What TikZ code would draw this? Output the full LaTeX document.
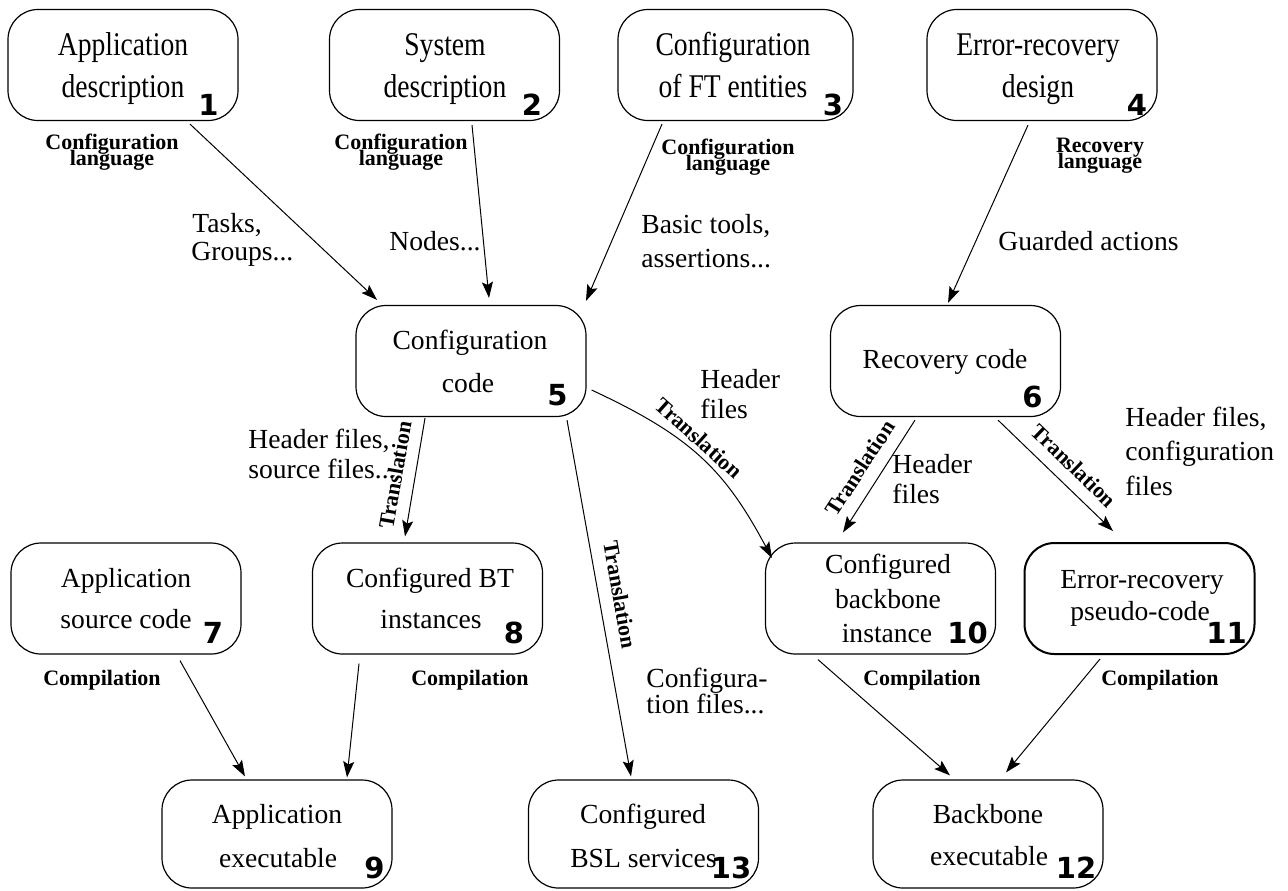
\documentclass[tikz,border=0pt]{standalone}
\usepackage{fontspec}
\usepackage{graphicx}
\setmainfont{Liberation Serif}
\newfontfamily\numfont{DejaVu Sans}
\newcommand{\tallt}[1]{\scalebox{1}[1.2]{#1}}
\usetikzlibrary{arrows.meta,calc}
\begin{document}
\begin{tikzpicture}[x=0.5pt,y=-0.5pt,
 box/.style={draw, line width=0.6pt, rounded corners=15pt, minimum width=115pt, minimum height=55.5pt, inner sep=0pt},
 txt/.style={anchor=base, inner sep=0pt, font=\fontsize{13.8}{16}\selectfont},
 txtl/.style={anchor=base west, inner sep=0pt, font=\fontsize{13.8}{16}\selectfont},
 blbl/.style={anchor=base, inner sep=0pt, font=\fontsize{11}{13}\selectfont\bfseries},
 rlbl/.style={inner sep=0pt, font=\fontsize{11}{13}\selectfont\bfseries},
 num/.style={anchor=base, inner sep=0pt, font=\numfont\bfseries\fontsize{14.5}{16}\selectfont},
 arr/.style={line width=0.5pt, -{Stealth[length=8pt,width=5.5pt,inset=1.5pt]}}]
\useasboundingbox (0,0) rectangle (1288,890);

% boxes
\node[box] (b1) at (123,65) {};
\node[box] (b2) at (444.5,65) {};
\node[box, minimum width=117.5pt] (b3) at (735.5,65) {};
\node[box] (b4) at (1042,65) {};
\node[box] (b5) at (471,361) {};
\node[box] (b6) at (945.5,361) {};
\node[box] (b7) at (126,598.5) {};
\node[box] (b8) at (427.5,598.5) {};
\node[box] (b10) at (880.5,598.5) {};
\node[box, line width=1pt] (b11) at (1139.5,598.5) {};
\node[box, minimum height=54pt] (b9) at (277,834) {};
\node[box, minimum height=54pt] (b13) at (643.5,834) {};
\node[box, minimum height=54pt] (b12) at (988,834) {};

% box texts
\node[txt] (t1a) at (123,55) {\tallt{Application}};
\node[txt] (t1b) at (123,97) {\tallt{description}};
\node[txt] (t2a) at (445,55) {\tallt{System}};
\node[txt] (t2b) at (445,97) {\tallt{description}};
\node[txt] (t3a) at (733,55) {\tallt{Configuration}};
\node[txt] (t3b) at (733,97) {\tallt{of FT entities}};
\node[txt] (t4a) at (1038,55) {\tallt{Error-recovery}};
\node[txt] (t4b) at (1038,97) {\tallt{design}};
\node[txt] (t5a) at (470,349) {Configuration};
\node[txt] (t5b) at (468,392) {code};
\node[txt] (t6a) at (945,368) {Recovery code};
\node[txt] (t7a) at (126,587) {Application};
\node[txt] (t7b) at (126,628) {source code};
\node[txt] (t8a) at (430,587) {Configured BT};
\node[txt] (t8b) at (431,628) {instances};
\node[txt] (t10a) at (888,573) {Configured};
\node[txt] (t10b) at (888,608) {backbone};
\node[txt] (t10c) at (887,642) {instance};
\node[txt] (t11a) at (1142,588) {Error-recovery};
\node[txt] (t11b) at (1140,620) {pseudo-code};
\node[txt] (t9a) at (277,823) {Application};
\node[txt] (t9b) at (278,867) {executable};
\node[txt] (t13a) at (643,823) {Configured};
\node[txt] (t13b) at (643.5,867) {BSL services};
\node[txt] (t12a) at (988,823) {Backbone};
\node[txt] (t12b) at (989,865) {executable};

% numbers
\node[num] (n1) at (208.5,115) {1};
\node[num] (n2) at (532,115) {2};
\node[num] (n3) at (833,115) {3};
\node[num] (n4) at (1137,115) {4};
\node[num] (n5) at (557.5,405) {5};
\node[num] (n6) at (1032.5,407) {6};
\node[num] (n7) at (213,643) {7};
\node[num] (n8) at (514,643) {8};
\node[num] (n10) at (967.5,643) {10};
\node[num] (n11) at (1226.5,643) {11};
\node[num] (n9) at (374.5,878) {9};
\node[num] (n13) at (731,878) {13};
\node[num] (n12) at (1076,878) {12};

% bold language labels
\node[blbl] (l1a) at (112,149) {Configuration};
\node[blbl] (l1b) at (112,165) {language};
\node[blbl] (l2a) at (401,149) {Configuration};
\node[blbl] (l2b) at (401,165) {language};
\node[blbl] (l3a) at (728,154) {Configuration};
\node[blbl] (l3b) at (728,170) {language};
\node[blbl] (l4a) at (1100,152) {Recovery};
\node[blbl] (l4b) at (1100,168) {language};

% compilation labels
\node[blbl] (c7) at (102,685) {Compilation};
\node[blbl] (c8) at (470,685) {Compilation};
\node[blbl] (c10) at (922,685) {Compilation};
\node[blbl] (c11) at (1160,685) {Compilation};

% translation labels
\node[rlbl, rotate=80] (tr58) at (395,475) {Translation};
\node[rlbl, rotate=-80] (tr513) at (620,595) {Translation};
\node[rlbl, rotate=-42] (tr510) at (699,438) {Translation};
\node[rlbl, rotate=57] (tr610) at (860,468) {Translation};
\node[rlbl, rotate=-44] (tr611) at (1074,466) {Translation};

% edge texts
\node[txtl] (e1a) at (192,232) {Tasks,};
\node[txtl] (e1b) at (191,260) {Groups...};
\node[txtl] (e2a) at (389,250) {Nodes...};
\node[txtl] (e3a) at (641,233) {Basic tools,};
\node[txtl] (e3b) at (641,267) {assertions...};
\node[txtl] (e4a) at (998,250) {Guarded actions};
\node[txtl] (e5a) at (248,448) {Header files,};
\node[txtl] (e5b) at (248,478) {source files...};
\node[txtl] (e6a) at (700,388) {Header};
\node[txtl] (e6b) at (700,418) {files};
\node[txtl] (e7a) at (892,473) {Header};
\node[txtl] (e7b) at (892,503) {files};
\node[txtl] (e8a) at (1125,426) {Header files,};
\node[txtl] (e8b) at (1125,460) {configuration};
\node[txtl] (e8c) at (1125,495) {files};
\node[txtl] (e9a) at (646,687) {Configura-};
\node[txtl] (e9b) at (646,713) {tion files...};

% connectors
\draw[arr] ($(b1.south)+(67,3)$) -- ($(b5.north)+(-94,-5)$);
\draw[arr] ($(b2.south)+(27.5,4)$) -- ($(b5.north)+(18,-7)$);
\draw[arr] ($(b3.south)+(-73.5,3)$) -- ($(b5.north)+(115,-4)$);
\draw[arr] ($(b4.south)+(-14,4)$) -- ($(b6.north)+(2.5,-2)$);
\draw[arr] ($(b5.south)+(-46,1)$) -- ($(b8.north)+(-22.5,-6)$);
\draw[arr] ($(b5.south)+(96,3)$) -- ($(b13.north)+(-12.5,-3)$);
\draw[arr] ($(b5.east)+(5,29)$) .. controls +(100,46.5) and +(-47,-88) .. ($(b10.west)+(7,-40.5)$);
\draw[arr] ($(b6.south)+(-30.5,3)$) -- ($(b10.north)+(-37.5,-10)$);
\draw[arr] ($(b6.south)+(52.5,3)$) -- ($(b11.north)+(-26.5,-11)$);
\draw[arr] ($(b7.south)+(54,6)$) -- ($(b9.north)+(-32,-3)$);
\draw[arr] ($(b8.south)+(-68.5,9)$) -- ($(b9.north)+(70,-2)$);
\draw[arr] ($(b10.south)+(-62.5,5)$) -- ($(b12.north)+(-38,-4)$);
\draw[arr] ($(b11.south)+(-39.5,4)$) -- ($(b12.north)+(18,-7)$);
\end{tikzpicture}
\end{document}
